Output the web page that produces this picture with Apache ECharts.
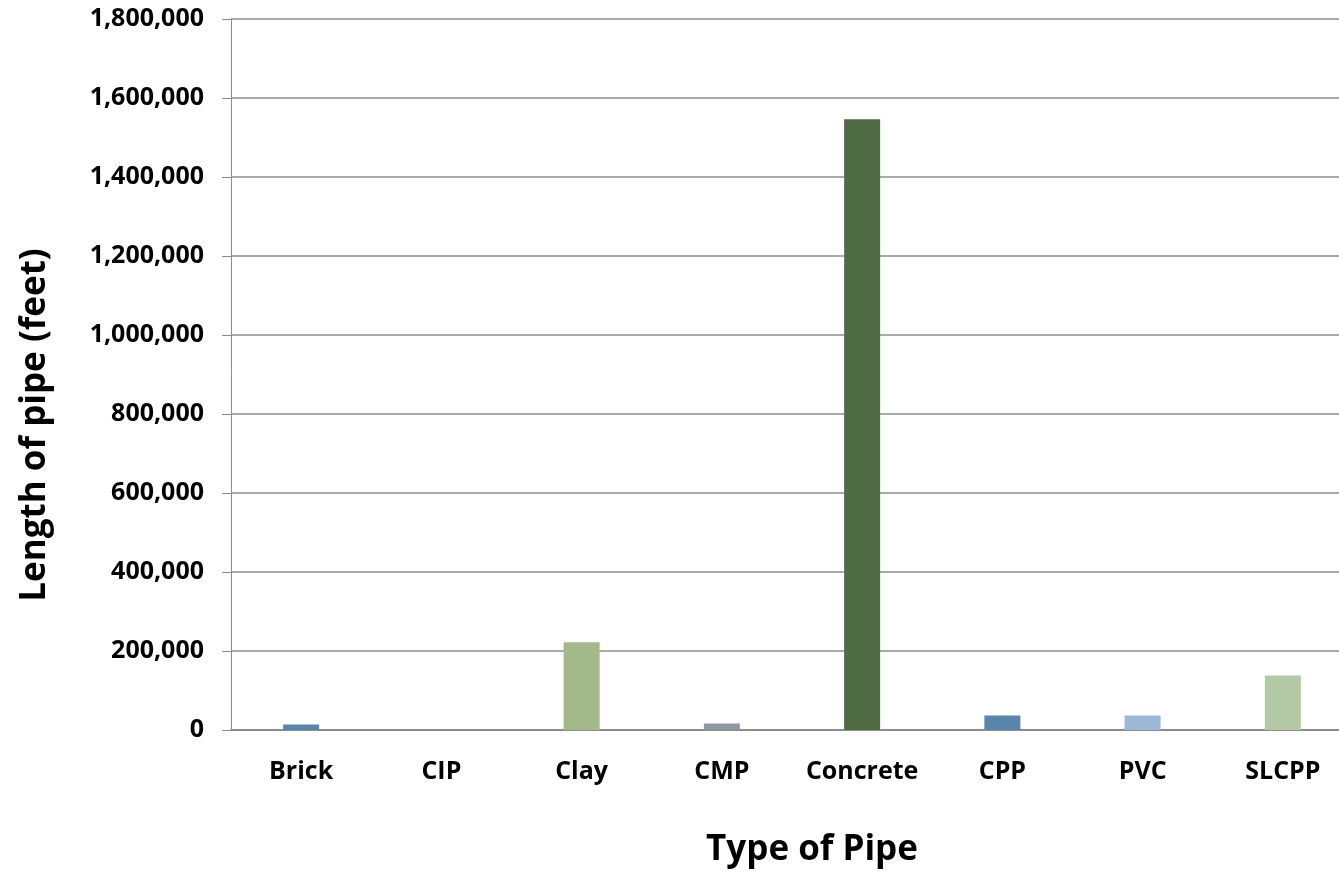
<!DOCTYPE html>
<html>
<head>
<meta charset="utf-8">
<script src="https://cdn.jsdelivr.net/npm/echarts@6/dist/echarts.min.js"></script>
<style>html,body{margin:0;padding:0;background:#fff;}#c{width:1339px;height:872px;}</style>
</head>
<body>
<div id="c"></div>
<script>
const categories = ['Brick', 'CIP', 'Clay', 'CMP', 'Concrete', 'CPP', 'PVC', 'SLCPP'];
const lengths = [14000, 0, 222000, 16500, 1546000, 37000, 37000, 138000];
const barColors = ['#5985ad', '#5985ad', '#a3b989', '#8c98a3', '#4f6b43', '#5985ad', '#9db8d6', '#b3c9a5'];
const xTitle = 'Type of Pipe';
const yTitle = 'Length of pipe (feet)';

const chart = echarts.init(document.getElementById('c'));
const font = 'Open Sans, Liberation Sans, sans-serif';
chart.setOption({
  animation: false,
  grid: { left: 231, top: 19, width: 1122, bottom: 142, outerBoundsMode: 'none', containLabel: false },
  graphic: [
    { type: 'text', x: 812, y: 850,
      style: { text: xTitle, fontFamily: font, fontWeight: 'bold', fontSize: 35, fill: '#000', align: 'center', verticalAlign: 'middle' } },
    { type: 'text', x: 35, y: 425, rotation: Math.PI / 2,
      style: { text: yTitle, fontFamily: font, fontWeight: 'bold', fontSize: 35, fill: '#000', align: 'center', verticalAlign: 'middle' } }
  ],
  xAxis: {
    type: 'category',
    data: categories,
    axisLine: { lineStyle: { color: '#8c8c8c', width: 2 } },
    axisTick: { show: false },
    axisLabel: { interval: 0, fontFamily: font, fontWeight: 'bold', fontSize: 25, color: '#000', margin: 29 }
  },
  yAxis: {
    type: 'value',
    min: 0, max: 1800000, interval: 200000,
    axisLine: { show: true, lineStyle: { color: '#8c8c8c', width: 1 } },
    axisTick: { show: true, inside: false, length: 9, lineStyle: { color: '#8c8c8c' } },
    splitLine: { lineStyle: { color: '#8c8c8c', width: 1.5 } },
    axisLabel: {
      fontFamily: font, fontWeight: 'bold', fontSize: 25, color: '#000', margin: 27,
      formatter: v => v.toLocaleString('en-US')
    }
  },
  series: [{
    type: 'bar',
    barWidth: 36,
    data: lengths.map((v, i) => ({ value: v, itemStyle: { color: barColors[i] } }))
  }]
});
</script>
</body>
</html>
